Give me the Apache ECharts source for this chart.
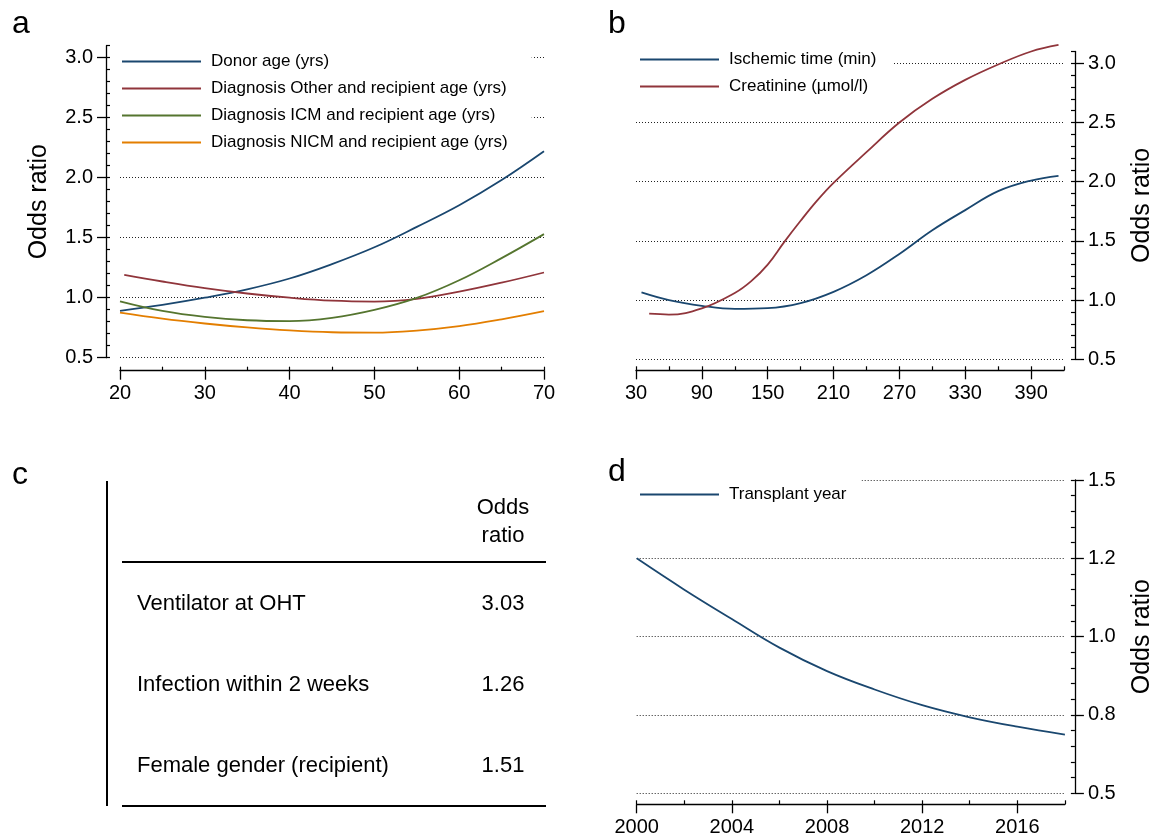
<!DOCTYPE html>
<html>
<head>
<meta charset="utf-8">
<title>Odds ratio panels</title>
<script src="https://cdn.jsdelivr.net/npm/echarts@6/dist/echarts.min.js"></script>
<style>
html, body { margin: 0; padding: 0; background: #fff; }
#main { width: 1160px; height: 838px; }
</style>
</head>
<body>
<div id="main"></div>
<script>
// ---- panel a: age effects ----
var ageX = [20, 25, 30, 35, 40, 45, 50, 55, 60, 65, 70];
var ageOtherX = [20.5, 25, 30, 35, 40, 45, 50, 55, 60, 65, 70];
var donorAge = [0.89, 0.94, 1.00, 1.07, 1.16, 1.28, 1.42, 1.59, 1.77, 1.98, 2.22];
var otherAge = [1.19, 1.135, 1.08, 1.035, 1.00, 0.975, 0.968, 0.99, 1.05, 1.125, 1.21];
var icmAge = [0.97, 0.89, 0.84, 0.812, 0.805, 0.832, 0.898, 0.998, 1.145, 1.33, 1.53];
var nicmAge = [0.875, 0.825, 0.785, 0.752, 0.727, 0.712, 0.709, 0.726, 0.763, 0.82, 0.888];
var aXTicks = [20, 30, 40, 50, 60, 70];
var aYTicks = [0.5, 1.0, 1.5, 2.0, 2.5, 3.0];

// ---- panel b: ischemic time / creatinine ----
var ischX = [35, 60, 90, 120, 150, 180, 210, 240, 270, 300, 330, 360, 390, 415];
var ischOR = [1.065, 1.0, 0.952, 0.926, 0.932, 0.975, 1.07, 1.21, 1.39, 1.59, 1.76, 1.92, 2.01, 2.05];
var creaX = [42, 60, 90, 120, 135, 150, 165, 180, 195, 210, 240, 270, 300, 330, 360, 390, 415];
var creaOR = [0.885, 0.878, 0.93, 1.06, 1.16, 1.30, 1.49, 1.67, 1.84, 1.99, 2.25, 2.50, 2.70, 2.86, 2.99, 3.10, 3.155];
var bXTicks = [30, 90, 150, 210, 270, 330, 390];
var bYTicks = [0.5, 1.0, 1.5, 2.0, 2.5, 3.0];

// ---- panel c: table ----
var tableRows = ['Ventilator at OHT', 'Infection within 2 weeks', 'Female gender (recipient)'];
var tableOdds = [3.03, 1.26, 1.51];

// ---- panel d: transplant year ----
var years = [2000, 2002, 2004, 2006, 2008, 2010, 2012, 2014, 2016, 2018];
var yearOR = [1.2, 1.12, 1.045, 0.972, 0.912, 0.865, 0.825, 0.791, 0.755, 0.725];
var dXTicks = [2000, 2004, 2008, 2012, 2016];
var dYTicks = [0.5, 0.8, 1.0, 1.2, 1.5];   // drawn evenly spaced on the axis

var FONT = '"Liberation Sans", Arial, Helvetica, sans-serif';
var navy = '#1a476f', maroon = '#90353b', green = '#55752f', orange = '#e37e00';

// the d axis puts its labels at equal steps (positions 1..5), so map odds ratio -> position
function dPos(v) {
    for (var i = 0; i < dYTicks.length - 1; i++) {
        if (v <= dYTicks[i + 1] || i === dYTicks.length - 2) {
            return 1 + i + (v - dYTicks[i]) / (dYTicks[i + 1] - dYTicks[i]);
        }
    }
}

function pairs(xs, ys, f) {
    var out = [];
    for (var i = 0; i < xs.length; i++) out.push([xs[i], f ? f(ys[i]) : ys[i]]);
    return out;
}

function lineSeries(name, xs, ys, color, grid, f) {
    return {
        name: name, type: 'line', xAxisIndex: grid * 2, yAxisIndex: grid * 2,
        data: pairs(xs, ys, f), smooth: 0.4, symbol: 'none', clip: false, z: 6,
        lineStyle: { color: color, width: 1.8 }, itemStyle: { color: color }
    };
}

function mainAxis(o) {
    return {
        type: 'value', gridIndex: o.grid, min: o.min, max: o.max, position: o.position,
        offset: o.offset,
        axisLine: { show: true, lineStyle: { color: '#000', width: 1.3 } },
        axisTick: { show: true, inside: false, length: 9, customValues: o.ticks,
                    lineStyle: { color: '#000', width: 1.3 } },
        axisLabel: { show: true, customValues: o.ticks, margin: 13, color: '#000',
                     fontSize: 20, fontFamily: FONT, formatter: o.fmt },
        splitLine: { show: !!o.split, lineStyle: { color: '#222', width: 1, type: [1, 2] } },
        name: o.name, nameLocation: 'middle', nameGap: o.position === 'left' ? 54 : 55,
        nameTextStyle: { fontSize: 25, fontFamily: FONT, color: '#000' }
    };
}

function minorAxis(o) {
    return {
        type: 'value', gridIndex: o.grid, min: o.min, max: o.max, interval: o.step,
        position: o.position, offset: o.offset,
        axisLine: { show: false },
        axisTick: { show: true, inside: true, length: 4, lineStyle: { color: '#000', width: 1.2 } },
        axisLabel: { show: false }, splitLine: { show: false }
    };
}

function legend(names, left, top, padRight) {
    return {
        data: names, orient: 'vertical', left: left, top: top,
        icon: 'path://M0,0H80V2H0Z',
        itemWidth: 79, itemHeight: 16, itemGap: 10,
        padding: [8, padRight, 4, 4], backgroundColor: '#fff',
        textStyle: { fontSize: 17, fontFamily: FONT, color: '#000', padding: [0, 0, 0, 5] },
        selectedMode: false
    };
}

var fix1 = function (v) { return v.toFixed(1); };
var plain = function (v) { return String(v); };

var option = {
    animation: false,
    backgroundColor: '#fff',
    grid: [
        { left: 120, top: 45.7, width: 424, height: 312 },
        { left: 636, top: 51.5, width: 428, height: 307.8 },
        { left: 636.7, top: 480, width: 428.2, height: 313.3 }
    ],
    xAxis: [
        mainAxis({ grid: 0, min: 20, max: 70, position: 'bottom', offset: 13, ticks: aXTicks, fmt: plain }),
        minorAxis({ grid: 0, min: 20, max: 70, step: 5, position: 'bottom', offset: 13 }),
        mainAxis({ grid: 1, min: 30, max: 420, position: 'bottom', offset: 11, ticks: bXTicks, fmt: plain }),
        minorAxis({ grid: 1, min: 30, max: 420, step: 30, position: 'bottom', offset: 11 }),
        mainAxis({ grid: 2, min: 2000, max: 2018, position: 'bottom', offset: 11, ticks: dXTicks, fmt: plain }),
        minorAxis({ grid: 2, min: 2000, max: 2018, step: 2, position: 'bottom', offset: 11 })
    ],
    yAxis: [
        mainAxis({ grid: 0, min: 0.5, max: 3.1, position: 'left', offset: 14, ticks: aYTicks,
                   fmt: fix1, split: true, name: 'Odds ratio' }),
        minorAxis({ grid: 0, min: 0.5, max: 3.1, step: 0.1, position: 'left', offset: 14 }),
        mainAxis({ grid: 1, min: 0.5, max: 3.1, position: 'right', offset: 11, ticks: bYTicks,
                   fmt: fix1, split: true, name: 'Odds ratio' }),
        minorAxis({ grid: 1, min: 0.5, max: 3.1, step: 0.1, position: 'right', offset: 11 }),
        mainAxis({ grid: 2, min: 1, max: dYTicks.length, position: 'right', offset: 10,
                   ticks: dYTicks.map(function (t, i) { return i + 1; }),
                   fmt: function (v) { return dYTicks[Math.round(v) - 1].toFixed(1); },
                   split: true, name: 'Odds ratio' }),
        minorAxis({ grid: 2, min: 1, max: dYTicks.length, step: 0.2, position: 'right', offset: 10 })
    ],
    legend: [
        legend(['Donor age (yrs)', 'Diagnosis Other and recipient age (yrs)',
                'Diagnosis ICM and recipient age (yrs)', 'Diagnosis NICM and recipient age (yrs)'],
               118, 45, 24),
        legend(['Ischemic time (min)', 'Creatinine (µmol/l)'], 636, 43, 16),
        legend(['Transplant year'], 636, 478, 15)
    ],
    series: [
        lineSeries('Donor age (yrs)', ageX, donorAge, navy, 0),
        lineSeries('Diagnosis Other and recipient age (yrs)', ageOtherX, otherAge, maroon, 0),
        lineSeries('Diagnosis ICM and recipient age (yrs)', ageX, icmAge, green, 0),
        lineSeries('Diagnosis NICM and recipient age (yrs)', ageX, nicmAge, orange, 0),
        lineSeries('Ischemic time (min)', ischX, ischOR, navy, 1),
        lineSeries('Creatinine (µmol/l)', creaX, creaOR, maroon, 1),
        lineSeries('Transplant year', years, yearOR, navy, 2, dPos)
    ],
    graphic: []
};

// panel letters
[['a', 12, 24], ['b', 608, 24], ['c', 12, 475], ['d', 608, 472]].forEach(function (p) {
    option.graphic.push({ type: 'text', x: p[1], y: p[2],
        style: { text: p[0], font: '32px ' + FONT, fill: '#000', align: 'left', verticalAlign: 'middle' } });
});

// panel c table
var TFONT = '22px ' + FONT;
option.graphic.push(
    { type: 'line', shape: { x1: 107, y1: 481, x2: 107, y2: 806 }, style: { stroke: '#000', lineWidth: 2 } },
    { type: 'line', shape: { x1: 122, y1: 562, x2: 546, y2: 562 }, style: { stroke: '#000', lineWidth: 2 } },
    { type: 'line', shape: { x1: 122, y1: 806, x2: 546, y2: 806 }, style: { stroke: '#000', lineWidth: 2 } },
    { type: 'text', x: 503, y: 508, style: { text: 'Odds', font: TFONT, fill: '#000', align: 'center', verticalAlign: 'middle' } },
    { type: 'text', x: 503, y: 536, style: { text: 'ratio', font: TFONT, fill: '#000', align: 'center', verticalAlign: 'middle' } }
);
var rowY = [604, 685, 766];
tableRows.forEach(function (label, i) {
    option.graphic.push(
        { type: 'text', x: 137, y: rowY[i], style: { text: label, font: TFONT, fill: '#000', align: 'left', verticalAlign: 'middle' } },
        { type: 'text', x: 503, y: rowY[i], style: { text: tableOdds[i].toFixed(2), font: TFONT, fill: '#000', align: 'center', verticalAlign: 'middle' } }
    );
});

var myChart = echarts.init(document.getElementById('main'));
myChart.setOption(option);
</script>
</body>
</html>
